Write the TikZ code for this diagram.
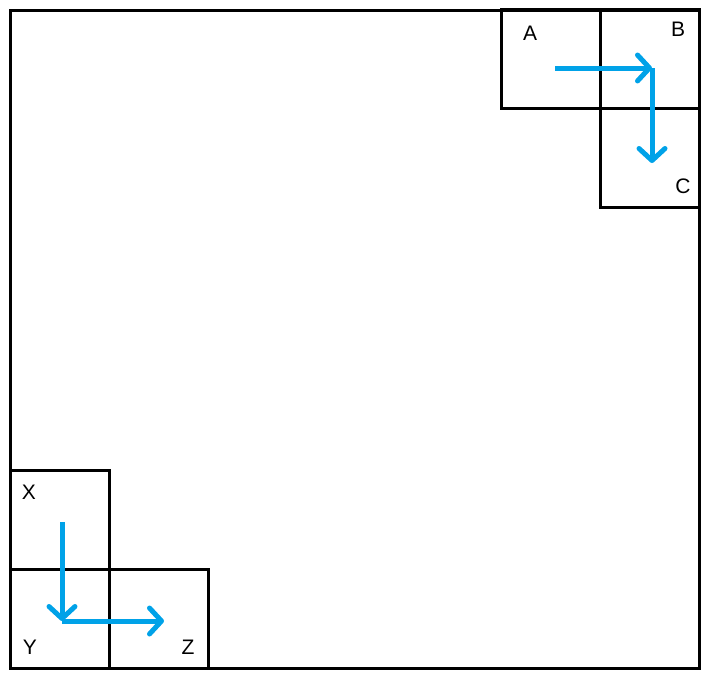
\documentclass[tikz,border=0pt]{standalone}
\usepackage{fontspec}
\setmainfont{Liberation Sans}
\usetikzlibrary{arrows.meta,positioning}
\definecolor{paintblue}{RGB}{0,162,232}

\begin{document}
\begin{tikzpicture}[
  x=1pt, y=-1pt,
  frame/.style={draw, line width=3pt, minimum width=689pt, minimum height=658pt, inner sep=0pt, outer sep=0pt},
  cell/.style={draw, line width=3pt, minimum size=99pt, inner sep=0pt, outer sep=0pt},
  tag/.style={font=\fontsize{21}{25}\selectfont, inner sep=0pt},
  move/.style={paintblue, line width=5pt, -{Straight Barb[length=12pt, width=26pt, round]}}
]
\useasboundingbox (0,0) rectangle (713,680);
\node[frame] (board) at (354.5,339) {};
% top right corner
\node[cell] (A) at (551,59) {};
\node[cell, right=0pt of A] (B) {};
\node[cell, below=0pt of B] (C) {};
\node[tag] (labA) at (530,33) {A};
\node[tag] (labB) at (678,29) {B};
\node[tag] (labC) at (683,186) {C};
% bottom left corner
\node[cell] (X) at (59.5,519.5) {};
\node[cell, below=0pt of X] (Y) {};
\node[cell, right=0pt of Y] (Z) {};
\node[tag] (labX) at (29,492) {X};
\node[tag] (labY) at (30,647) {Y};
\node[tag] (labZ) at (188,647) {Z};
% moves
\coordinate (startA) at (555,68);
\coordinate (turnB) at (652,68);
\coordinate (endC) at (652,163);
\coordinate (startX) at (62,522);
\coordinate (turnY) at (62,621);
\coordinate (endZ) at (164,621);
\draw[move] (startA) -- (turnB);
\draw[move] (turnB) -- (endC);
\draw[move] (startX) -- (turnY);
\draw[move] (turnY) -- (endZ);
\end{tikzpicture}
\end{document}
